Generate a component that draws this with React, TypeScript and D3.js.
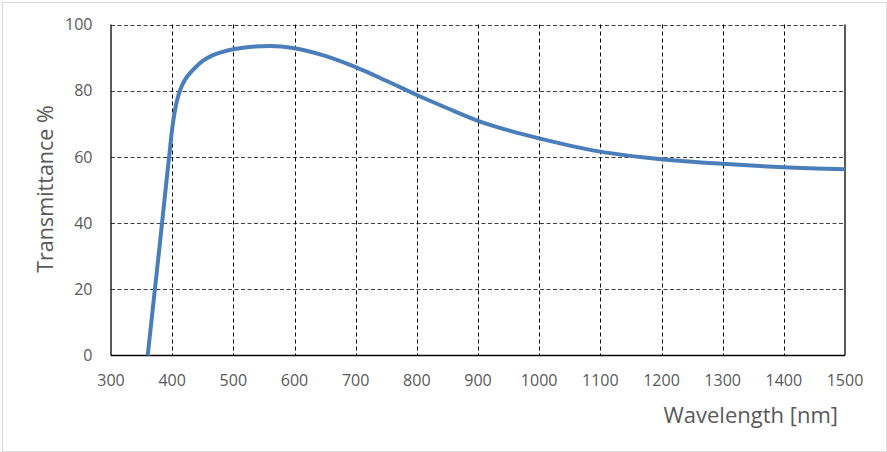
import React from "react";
import * as d3 from "d3";

const wavelengths = [360, 370, 380, 390, 395, 400, 405, 410, 415, 420, 430, 440, 450, 465, 480, 500, 530, 560, 600, 650, 700, 750, 800, 850, 900, 950, 1000, 1100, 1200, 1300, 1400, 1500];
const transmittance = [0, 17, 34, 51.5, 60, 68.5, 74.5, 78.5, 81.1, 83, 85.5, 87.4, 89, 90.6, 91.6, 92.5, 93.3, 93.5, 92.8, 90.5, 87.1, 83, 78.7, 74.7, 70.9, 68, 65.6, 61.6, 59.3, 57.9, 56.9, 56.3];
const xTicks = [300, 400, 500, 600, 700, 800, 900, 1000, 1100, 1200, 1300, 1400, 1500];
const yTicks = [0, 20, 40, 60, 80, 100];

const W = 887;
const H = 452;
const left = 111, right = 845, top = 24.5, bottom = 355.5;

export default function App() {
  const x = d3.scaleLinear().domain([300, 1500]).range([left, right]);
  const y = d3.scaleLinear().domain([0, 100]).range([bottom, top]);
  const pts: [number, number][] = wavelengths.map((w, i) => [w, transmittance[i]]);
  const line = d3
    .line<[number, number]>()
    .x((d) => x(d[0]))
    .y((d) => y(d[1]))
    .curve(d3.curveMonotoneX);
  const font = "'Open Sans', sans-serif";
  return (
    <svg width={W} height={H} style={{ position: "absolute", left: 0, top: 0, background: "#fff" }}>
      <rect x={0} y={0} width={W} height={H} fill="#fff" />
      <rect x={2.5} y={2.5} width={W - 3} height={H - 3} fill="none" stroke="#d9d9d9" strokeWidth={1} />
      {yTicks.filter((t) => t > 0).map((t) => (
        <line key={"h" + t} x1={left} x2={right} y1={Math.round(y(t)) + 0.5} y2={Math.round(y(t)) + 0.5} stroke="#404040" strokeWidth={1} strokeDasharray="4,2.5" />
      ))}
      {xTicks.filter((t) => t > 300 && t < 1500).map((t) => (
        <line key={"v" + t} x1={Math.round(x(t)) + 0.5} x2={Math.round(x(t)) + 0.5} y1={top} y2={bottom} stroke="#000" strokeWidth={1} strokeDasharray="4,3" />
      ))}
      <line x1={left} x2={left} y1={top} y2={bottom} stroke="#000" strokeWidth={1.3} />
      <line x1={right} x2={right} y1={top} y2={bottom} stroke="#000" strokeWidth={1.3} />
      <line x1={left} x2={right} y1={bottom} y2={bottom} stroke="#000" strokeWidth={1.5} />
      <path d={line(pts) || ""} fill="none" stroke="#4a7ebb" strokeWidth={4} strokeLinejoin="round" />
      {yTicks.map((t) => (
        <text key={"yl" + t} x={92.5} y={y(t)} dy="0.36em" textAnchor="end" fontFamily={font} fontSize={16} fill="#595959">
          {t}
        </text>
      ))}
      {xTicks.map((t) => (
        <text key={"xl" + t} x={x(t)} y={386} textAnchor="middle" fontFamily={font} fontSize={16} fill="#595959">
          {t}
        </text>
      ))}
      <text x={838} y={422.5} textAnchor="end" fontFamily={font} fontSize={22} fill="#595959">
        Wavelength [nm]
      </text>
      <text transform="translate(53,189) rotate(-90)" textAnchor="middle" fontFamily={font} fontSize={21.5} fill="#595959">
        Transmittance %
      </text>
    </svg>
  );
}
